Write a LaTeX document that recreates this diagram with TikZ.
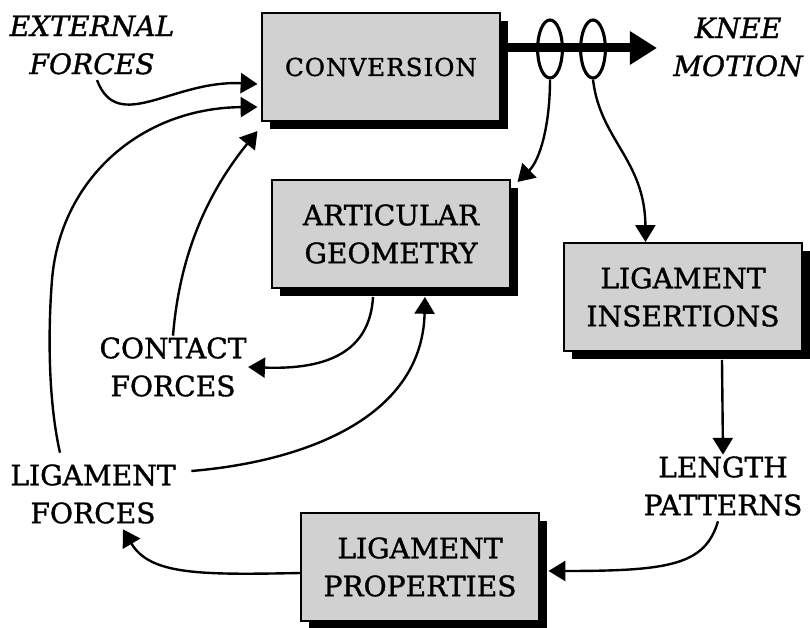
\documentclass[tikz,border=0pt]{standalone}
\usepackage{fontspec}
\setmainfont{DejaVu Serif}[FakeBold=1.2]
\usetikzlibrary{shapes.geometric,shadows,arrows.meta,calc}
\newcommand{\lab}{\fontsize{20}{27}\selectfont}
\newcommand{\smalllab}{\fontsize{17.5}{20}\selectfont\addfontfeature{LetterSpace=4}}
\tikzset{
  box/.style={rectangle, draw, line width=1.4pt, fill=black!18, minimum width=5.925cm,
    minimum height=2.7cm, align=center, font=\lab,
    drop shadow={shadow xshift=0.2cm, shadow yshift=-0.2cm, fill=black, opacity=1}},
  txt/.style={align=center, font=\lab, inner sep=1pt},
  ring/.style={ellipse, draw, line width=2.2pt, minimum width=0.62cm, minimum height=1.45cm, inner sep=0pt},
  flow/.style={line width=1.7pt, -{Triangle[length=0.42cm,width=0.5cm]}}
}
\begin{document}
\begin{tikzpicture}[x=0.025cm,y=-0.025cm]
  \useasboundingbox (0,0) rectangle (810,628);
  \node[box, font=\smalllab] (conv) at (381,67) {CONVERSION};
  \node[box] (artic) at (391,234) {ARTICULAR\\GEOMETRY};
  \node[box] (ins) at (683,297) {LIGAMENT\\INSERTIONS};
  \node[box] (prop) at (420,567) {LIGAMENT\\PROPERTIES};
  \node[txt, font=\lab\itshape] (ext) at (92,45) {EXTERNAL\\FORCES};
  \node[txt, font=\lab\itshape] (knee) at (738,47) {KNEE\\MOTION};
  \node[txt] (contact) at (173,367) {CONTACT\\FORCES};
  \node[txt] (ligf) at (93,494) {LIGAMENT\\FORCES};
  \node[txt] (length) at (723,486) {LENGTH\\PATTERNS};
  \coordinate (tip) at (657,48);
  \draw[line width=6.4pt, -{Triangle[length=0.68cm,width=0.8cm]}] ($(conv.east)+(0,-19)$) -- (tip);
  \node[ring] (e1) at (550,49) {};
  \node[ring] (e2) at (593,49) {};
  \draw[flow] ($(ext.south)+(5,4)$) .. controls (118,135) and (172,80) .. ($(conv.west)+(-4,17)$);
  \draw[flow] ($(ligf.north)+(-33,-10)$) .. controls (48,400) and (48,330) .. (52,280)
    .. controls (60,180) and (140,108) .. ($(conv.west)+(-4,40)$);
  \draw[flow] (contact.north) .. controls (180,250) and (210,190) .. ($(conv.south west)+(-4,9)$);
  \draw[flow] ($(artic.south)+(-18,8)$) .. controls (370,350) and (330,370) .. (contact.east);
  \draw[flow] ($(ligf.east)+(14,-23)$) .. controls (300,462) and (422,420) .. ($(artic.south)+(34,8)$);
  \draw[flow] (e1.south) .. controls (550,125) and (540,160) .. ($(artic.north east)+(7,3)$);
  \draw[flow] (e2.south) .. controls (600,140) and (645,160) .. ($(ins.north west)+(82,0)$);
  \draw[flow] ($(ins.south)+(39,8)$) -- (length.north);
  \draw[flow] ($(length.south)+(-5,4)$) .. controls (705,565) and (670,571) .. ($(prop.east)+(9,4)$);
  \draw[flow] ($(prop.west)+(0,6)$) .. controls (200,575) and (150,575) .. ($(ligf.south)+(30,4)$);
\end{tikzpicture}
\end{document}
